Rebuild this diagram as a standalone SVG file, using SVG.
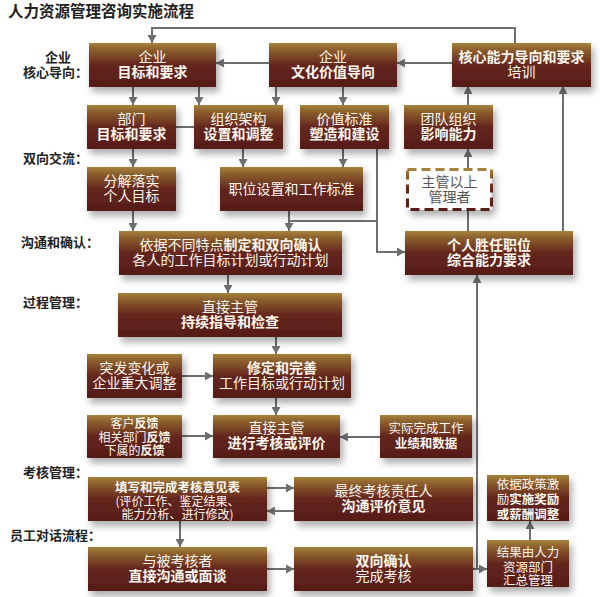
<svg xmlns="http://www.w3.org/2000/svg" width="600" height="597" viewBox="0 0 600 597">
<defs>
<linearGradient id="g" x1="0" y1="0" x2="0" y2="1">
<stop offset="0" stop-color="#a6833c"/>
<stop offset="0.15" stop-color="#8c602d"/>
<stop offset="0.5" stop-color="#64261d"/>
<stop offset="1" stop-color="#561c18"/>
</linearGradient>
<filter id="sh" x="-10%" y="-10%" width="130%" height="150%">
<feDropShadow dx="3" dy="5" stdDeviation="3.5" flood-color="#000" flood-opacity="0.32"/>
</filter>
<marker id="ah" markerUnits="userSpaceOnUse" markerWidth="9" markerHeight="9" refX="8" refY="4.5" orient="auto">
<path d="M0,0 L8,4.5 L0,9 z" fill="#6e6e6e"/>
</marker>
<style>
.b{fill:url(#g);filter:url(#sh)}
.t{font-family:"Noto Sans CJK SC","Liberation Sans",sans-serif;font-size:14px;fill:#fbf6ee;text-anchor:middle}
.s{font-size:12.5px}
.xs{font-size:12px}
.bd{font-weight:bold}
.lb{font-family:"Noto Sans CJK SC","Liberation Sans",sans-serif;font-size:13px;font-weight:bold;fill:#222}
.c path,.c line,.c polyline{stroke:#6e6e6e;stroke-width:2;fill:none}
.a{marker-end:url(#ah)}
</style>
</defs>
<rect width="600" height="597" fill="#fff"/>
<text x="8" y="17" class="lb" style="font-size:15.5px">人力资源管理咨询实施流程</text>
<g id="labels">
<text x="58" y="62" class="lb" text-anchor="middle">企业</text>
<text x="23" y="77" class="lb">核心导向：</text>
<text x="23" y="163" class="lb">双向交流：</text>
<text x="21" y="247" class="lb">沟通和确认：</text>
<text x="23" y="307" class="lb">过程管理：</text>
<text x="23" y="477" class="lb">考核管理：</text>
<text x="10" y="540" class="lb">员工对话流程：</text>
</g>
<g class="c" id="connectors">
<polyline class="a" points="515,43 515,28 152,28 152,43"/>
<line class="a" x1="452" y1="63" x2="397" y2="63"/>
<line class="a" x1="269" y1="63" x2="216" y2="63"/>
<line class="a" x1="133" y1="87" x2="133" y2="105"/>
<line class="a" x1="199" y1="87" x2="199" y2="105"/>
<line class="a" x1="276" y1="87" x2="276" y2="105"/>
<line class="a" x1="343" y1="87" x2="343" y2="105"/>
<line x1="176" y1="127" x2="194" y2="127"/>
<line class="a" x1="133" y1="149" x2="133" y2="167"/>
<line class="a" x1="243" y1="149" x2="243" y2="167"/>
<line class="a" x1="343" y1="149" x2="343" y2="167"/>
<polyline class="a" points="377,149 377,252 405,252"/>
<line class="a" x1="289" y1="211" x2="289" y2="231"/>
<line x1="289" y1="221" x2="377" y2="221"/>
<line class="a" x1="133" y1="211" x2="133" y2="231"/>
<line x1="468" y1="231" x2="468" y2="211"/>
<line class="a" x1="468" y1="168" x2="468" y2="149"/>
<line class="a" x1="468" y1="105" x2="468" y2="86"/>
<line class="a" x1="563" y1="231" x2="563" y2="86"/>
<line class="a" x1="228" y1="275" x2="228" y2="293"/>
<line class="a" x1="276" y1="337" x2="276" y2="354"/>
<line class="a" x1="182" y1="376" x2="213" y2="376"/>
<line class="a" x1="276" y1="398" x2="276" y2="415"/>
<line class="a" x1="182" y1="436" x2="213" y2="436"/>
<line class="a" x1="380" y1="437" x2="340" y2="437"/>
<line class="a" x1="267" y1="488" x2="294" y2="488"/>
<line class="a" x1="294" y1="511" x2="267" y2="511"/>
<line class="a" x1="180" y1="521" x2="180" y2="547"/>
<line class="a" x1="267" y1="569" x2="294" y2="569"/>
<line class="a" x1="473" y1="569" x2="487" y2="569"/>
<line class="a" x1="477" y1="569" x2="477" y2="275"/>
<line class="a" x1="530" y1="540" x2="530" y2="521"/>
</g>
<g id="n1"><rect class="b" x="89" y="43" width="127" height="44"/><text class="t" x="152.5" y="62">企业</text><text class="t bd" x="152.5" y="77">目标和要求</text></g>
<g id="n2"><rect class="b" x="269" y="43" width="128" height="44"/><text class="t" x="333" y="62">企业</text><text class="t bd" x="333" y="77">文化价值导向</text></g>
<g id="n3"><rect class="b" x="452" y="43" width="139" height="44"/><text class="t bd" x="521.5" y="62">核心能力导向和要求</text><text class="t" x="521.5" y="77">培训</text></g>
<g id="n4"><rect class="b" x="87" y="105" width="89" height="44"/><text class="t" x="131.5" y="124">部门</text><text class="t bd" x="131.5" y="139">目标和要求</text></g>
<g id="n5"><rect class="b" x="194" y="105" width="89" height="44"/><text class="t" x="238.5" y="124">组织架构</text><text class="t bd" x="238.5" y="139">设置和调整</text></g>
<g id="n6"><rect class="b" x="300" y="105" width="89" height="44"/><text class="t" x="344.5" y="124">价值标准</text><text class="t bd" x="344.5" y="139">塑造和建设</text></g>
<g id="n7"><rect class="b" x="404" y="105" width="89" height="44"/><text class="t" x="448.5" y="124">团队组织</text><text class="t bd" x="448.5" y="139">影响能力</text></g>
<g id="n8"><rect class="b" x="87" y="167" width="89" height="44"/><text class="t" x="131.5" y="186">分解落实</text><text class="t" x="131.5" y="201">个人目标</text></g>
<g id="n9"><rect class="b" x="220" y="167" width="143" height="44"/><text class="t" x="291.5" y="194">职位设置和工作标准</text></g>
<g id="n10"><rect x="407.5" y="169.5" width="84" height="40" fill="#fff" stroke="url(#g)" stroke-width="3" stroke-dasharray="9,5" filter="url(#sh)"/><text class="t" x="449.5" y="187" style="fill:#555">主管以上</text><text class="t" x="449.5" y="202" style="fill:#555">管理者</text></g>
<g id="n11"><rect class="b" x="119" y="231" width="223" height="44"/><text class="t" x="230.5" y="250">依据不同特点<tspan class="bd">制定和双向确认</tspan></text><text class="t" x="230.5" y="265">各人的工作目标计划或行动计划</text></g>
<g id="n12"><rect class="b" x="405" y="231" width="168" height="44"/><text class="t bd" x="489" y="250">个人胜任职位</text><text class="t bd" x="489" y="265">综合能力要求</text></g>
<g id="n13"><rect class="b" x="118" y="293" width="224" height="44"/><text class="t" x="230" y="312">直接主管</text><text class="t bd" x="230" y="327">持续指导和检查</text></g>
<g id="n14"><rect class="b" x="87" y="354" width="95" height="44"/><text class="t" x="134.5" y="373">突发变化或</text><text class="t" x="134.5" y="388">企业重大调整</text></g>
<g id="n15"><rect class="b" x="213" y="354" width="138" height="44"/><text class="t bd" x="282" y="373">修定和完善</text><text class="t" x="282" y="388">工作目标或行动计划</text></g>
<g id="n16"><rect class="b" x="87" y="415" width="95" height="43"/><text class="t xs" x="134.5" y="428">客户<tspan class="bd">反馈</tspan></text><text class="t xs" x="134.5" y="442">相关部门<tspan class="bd">反馈</tspan></text><text class="t xs" x="134.5" y="455">下属的<tspan class="bd">反馈</tspan></text></g>
<g id="n17"><rect class="b" x="213" y="415" width="127" height="43"/><text class="t" x="276.5" y="433">直接主管</text><text class="t bd" x="276.5" y="448">进行考核或评价</text></g>
<g id="n18"><rect class="b" x="380" y="415" width="92" height="43"/><text class="t s" x="426" y="433">实际完成工作</text><text class="t s bd" x="426" y="448">业绩和数据</text></g>
<g id="n19"><rect class="b" x="88" y="477" width="179" height="44"/><text class="t s bd" x="177.5" y="492">填写和完成考核意见表</text><text class="t xs" x="177.5" y="506">(评价工作、鉴定结果、</text><text class="t xs" x="177.5" y="519">能力分析、进行修改)</text></g>
<g id="n20"><rect class="b" x="294" y="477" width="179" height="44"/><text class="t" x="383.5" y="496">最终考核责任人</text><text class="t bd" x="383.5" y="511">沟通评价意见</text></g>
<g id="n21"><rect class="b" x="487" y="475" width="82" height="46"/><text class="t s" x="528" y="489">依据政策激</text><text class="t s" x="528" y="504">励<tspan class="bd">实施奖励</tspan></text><text class="t s bd" x="528" y="519">或薪酬调整</text></g>
<g id="n22"><rect class="b" x="88" y="547" width="179" height="44"/><text class="t" x="177.5" y="566">与被考核者</text><text class="t bd" x="177.5" y="581">直接沟通或面谈</text></g>
<g id="n23"><rect class="b" x="294" y="547" width="179" height="44"/><text class="t bd" x="383.5" y="566">双向确认</text><text class="t" x="383.5" y="581">完成考核</text></g>
<g id="n24"><rect class="b" x="487" y="540" width="82" height="47"/><text class="t s" x="528" y="557">结果由人力</text><text class="t s" x="528" y="571.5">资源部门</text><text class="t s" x="528" y="585">汇总管理</text></g>
</svg>
